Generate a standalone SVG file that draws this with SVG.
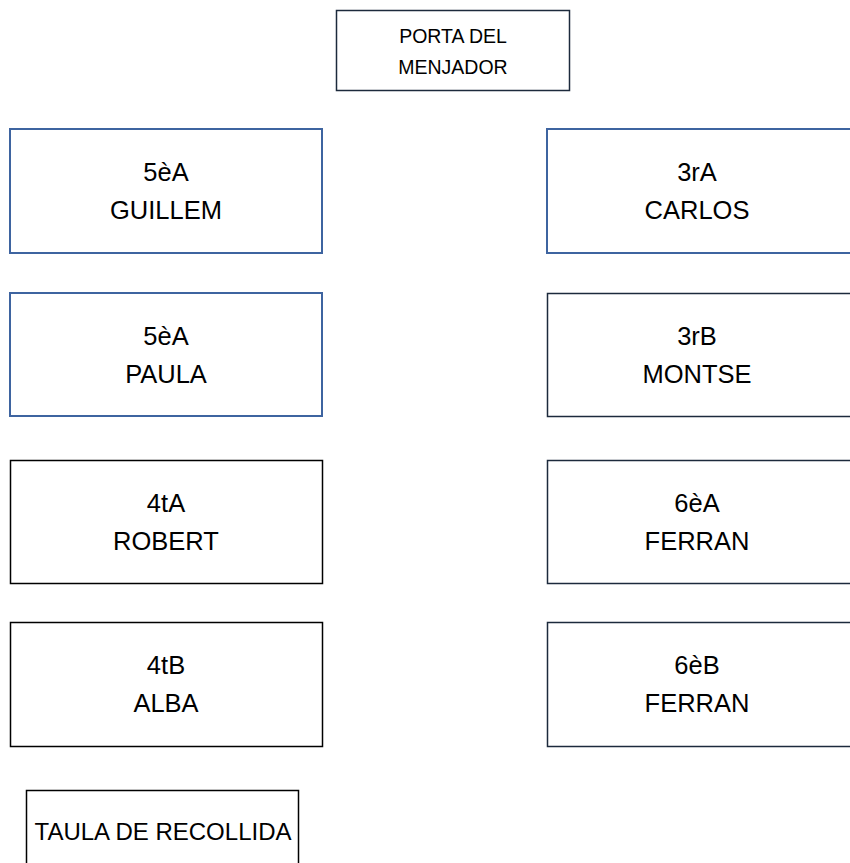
<svg xmlns="http://www.w3.org/2000/svg" width="850" height="863" viewBox="0 0 850 863">
<style>
.box{fill:#fff;stroke:#000;stroke-width:1.5}
.blue{stroke:#3e64a0;stroke-width:2}
.dark{stroke:#1c2a3c}
text{font-family:"Liberation Sans","Noto Sans",sans-serif;fill:#000;text-anchor:middle}
.t{font-size:25.5px}
.w{font-size:24px}
.s{font-size:19.5px}
</style>
<rect width="850" height="863" fill="#fff"/>
<g id="porta"><rect class="box dark" x="336.5" y="10.5" width="233" height="80"/><text class="s" x="453" y="43">PORTA DEL</text><text class="s" x="453" y="74">MENJADOR</text></g>
<g id="n5eA-guillem"><rect class="box blue" x="10" y="129" width="312" height="124"/><text class="t" x="166" y="181">5èA</text><text class="t" x="166" y="219">GUILLEM</text></g>
<g id="n5eA-paula"><rect class="box blue" x="10" y="293" width="312" height="123"/><text class="t" x="166" y="345">5èA</text><text class="t" x="166" y="383">PAULA</text></g>
<g id="n4tA-robert"><rect class="box" x="10.5" y="460.5" width="312" height="123"/><text class="t" x="166" y="512">4tA</text><text class="t" x="166" y="550">ROBERT</text></g>
<g id="n4tB-alba"><rect class="box" x="10.5" y="622.5" width="312" height="124"/><text class="t" x="166" y="674">4tB</text><text class="t" x="166" y="712">ALBA</text></g>
<g id="n3rA-carlos"><rect class="box blue" x="547" y="129" width="306" height="124"/><text class="t" x="697" y="181">3rA</text><text class="t" x="697" y="219">CARLOS</text></g>
<g id="n3rB-montse"><rect class="box dark" x="547.5" y="293.5" width="306" height="123"/><text class="t" x="697" y="345">3rB</text><text class="t" x="697" y="383">MONTSE</text></g>
<g id="n6eA-ferran"><rect class="box dark" x="547.5" y="460.5" width="306" height="123"/><text class="t" x="697" y="512">6èA</text><text class="t" x="697" y="550">FERRAN</text></g>
<g id="n6eB-ferran"><rect class="box dark" x="547.5" y="622.5" width="306" height="124"/><text class="t" x="697" y="674">6èB</text><text class="t" x="697" y="712">FERRAN</text></g>
<g id="taula"><rect class="box" x="26.5" y="790.5" width="272" height="80"/><text class="w" x="163" y="840">TAULA DE RECOLLIDA</text></g>
<g id="connectors"></g>
</svg>
